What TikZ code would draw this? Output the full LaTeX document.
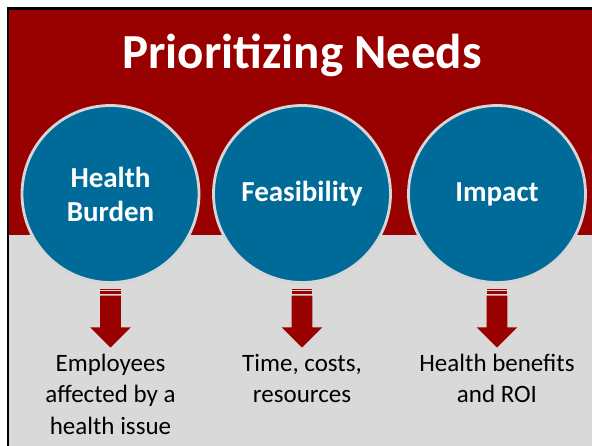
\documentclass[tikz,border=0pt]{standalone}
\usepackage{fontspec}
\setmainfont{Carlito}
\definecolor{slidered}{RGB}{153,0,0}
\definecolor{circblue}{RGB}{0,106,153}
\definecolor{slidegray}{RGB}{217,217,217}
\definecolor{ringgray}{RGB}{214,214,214}
\begin{document}
\begin{tikzpicture}[x=1pt,y=-1pt,
  bubble/.style={circle, fill=circblue, draw=ringgray, line width=2.8pt, minimum size=177pt, inner sep=0pt},
  bubbletext/.style={text=white, font=\bfseries\fontsize{29}{34.4}\selectfont, anchor=base, inner sep=0pt},
  desc/.style={text=black, font=\fontsize{25}{31.2}\selectfont, anchor=base, inner sep=0pt},
  titletext/.style={text=white, font=\bfseries\fontsize{49}{58}\selectfont, anchor=base, inner sep=0pt},
  blockarrow/.style={fill=slidered}]
\useasboundingbox (0,0) rectangle (592,446);
\fill[white] (0,0) rectangle (592,446);
\fill[slidegray] (7,8) rectangle (592,446);
\fill[slidered] (7,8) rectangle (592,235);
\draw[line width=2.7pt] (8,446) -- (8,8.7) -- (592,8.7);

\node[titletext] (title) at (302,69) {Prioritizing Needs};

\node[bubble] (c1) at (110.5,194) {};
\node[bubble] (c2) at (302,194) {};
\node[bubble] (c3) at (497,194) {};

\node[bubbletext] (l1) at (110.5,187.3) {\begin{tabular}[t]{@{}c@{}}Health\\Burden\end{tabular}};
\node[bubbletext] (l2) at (302,201.7) {Feasibility};
\node[bubbletext] (l3) at (497,201.7) {Impact};

\foreach \n in {c1,c2,c3}{
  \begin{scope}[shift={(\n.center)}]
    \fill[blockarrow] (-10.4,95) rectangle (10.4,96.3);
    \fill[blockarrow] (-10.4,97.4) rectangle (10.4,100.3);
    \fill[blockarrow] (-10.4,101.7) -- (10.4,101.7) -- (10.4,133.4) -- (20.3,133.4)
      -- (0,153.5) -- (-20.3,133.4) -- (-10.4,133.4) -- cycle;
  \end{scope}
}

\node[desc] (t1) at (110.5,371.7) {\begin{tabular}[t]{@{}c@{}}Employees\\affected by a\\health issue\end{tabular}};
\node[desc] (t2) at (302,371.7) {\begin{tabular}[t]{@{}c@{}}Time, costs,\\resources\end{tabular}};
\node[desc] (t3) at (497,371.7) {\begin{tabular}[t]{@{}c@{}}Health benefits\\and ROI\end{tabular}};
\end{tikzpicture}
\end{document}
